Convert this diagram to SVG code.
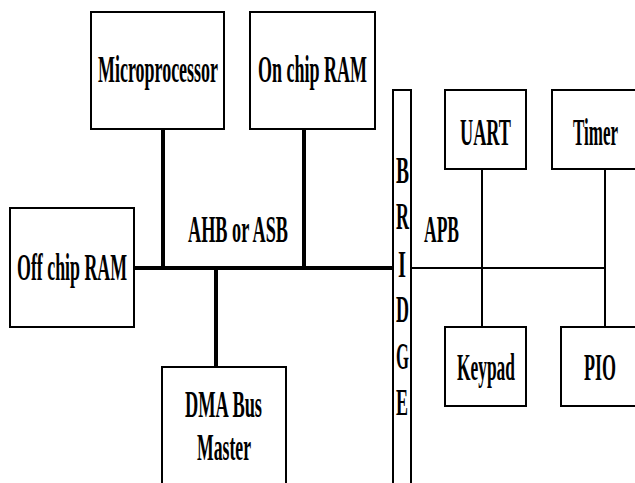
<svg xmlns="http://www.w3.org/2000/svg" width="635" height="483" viewBox="0 0 635 483">
<style>
.box{fill:#fff;stroke:#000;stroke-width:2}
.t{font-family:"Liberation Serif","Times New Roman",serif;font-size:38px;font-weight:bold;fill:#000}
.thick{stroke:#000;stroke-width:4;fill:none}
.thin{stroke:#000;stroke-width:2;fill:none}
</style>
<rect width="635" height="483" fill="#fff"/>
<g id="connectors">
<line class="thick" x1="134" y1="268" x2="393" y2="268"/>
<line class="thick" x1="163" y1="129" x2="163" y2="268"/>
<line class="thick" x1="304" y1="129" x2="304" y2="268"/>
<line class="thick" x1="216" y1="268" x2="216" y2="367"/>
<line class="thin" x1="411" y1="268" x2="605" y2="268"/>
<line class="thin" x1="482" y1="169" x2="482" y2="327"/>
<line class="thin" x1="605" y1="169" x2="605" y2="327"/>
</g>
<g id="microprocessor"><rect class="box" x="91" y="12" width="133" height="117"/><text class="t" x="98" y="82" textLength="120" lengthAdjust="spacingAndGlyphs">Microprocessor</text></g>
<g id="onchipram"><rect class="box" x="250" y="12" width="125" height="117"/><text class="t" x="258" y="82" textLength="109" lengthAdjust="spacingAndGlyphs">On chip RAM</text></g>
<g id="offchipram"><rect class="box" x="10" y="208" width="124" height="119"/><text class="t" x="17" y="280" textLength="110" lengthAdjust="spacingAndGlyphs">Off chip RAM</text></g>
<g id="dma"><rect class="box" x="162" y="367" width="124" height="130"/><text class="t" x="185" y="417" textLength="77" lengthAdjust="spacingAndGlyphs">DMA Bus</text><text class="t" x="197" y="460" textLength="54" lengthAdjust="spacingAndGlyphs">Master</text></g>
<g id="ahb-label"><text class="t" x="188" y="242" textLength="100" lengthAdjust="spacingAndGlyphs">AHB or ASB</text></g>
<g id="bridge"><rect class="box" x="393" y="90" width="18" height="400"/>
<text class="t" x="396" y="183" textLength="13" lengthAdjust="spacingAndGlyphs">B</text>
<text class="t" x="396" y="229" textLength="13" lengthAdjust="spacingAndGlyphs">R</text>
<text class="t" x="398" y="277" textLength="8" lengthAdjust="spacingAndGlyphs">I</text>
<text class="t" x="396" y="322" textLength="13" lengthAdjust="spacingAndGlyphs">D</text>
<text class="t" x="396" y="369" textLength="13" lengthAdjust="spacingAndGlyphs">G</text>
<text class="t" x="396" y="415" textLength="12" lengthAdjust="spacingAndGlyphs">E</text>
</g>
<g id="apb-label"><text class="t" x="424" y="242" textLength="35" lengthAdjust="spacingAndGlyphs">APB</text></g>
<g id="uart"><rect class="box" x="445" y="90" width="81" height="79"/><text class="t" x="460" y="145" textLength="51" lengthAdjust="spacingAndGlyphs">UART</text></g>
<g id="timer"><rect class="box" x="552" y="90" width="90" height="79"/><text class="t" x="573" y="145" textLength="45" lengthAdjust="spacingAndGlyphs">Timer</text></g>
<g id="keypad"><rect class="box" x="445" y="327" width="81" height="79"/><text class="t" x="457" y="380" textLength="58" lengthAdjust="spacingAndGlyphs">Keypad</text></g>
<g id="pio"><rect class="box" x="561" y="327" width="81" height="79"/><text class="t" x="584" y="380" textLength="32" lengthAdjust="spacingAndGlyphs">PIO</text></g>
</svg>
